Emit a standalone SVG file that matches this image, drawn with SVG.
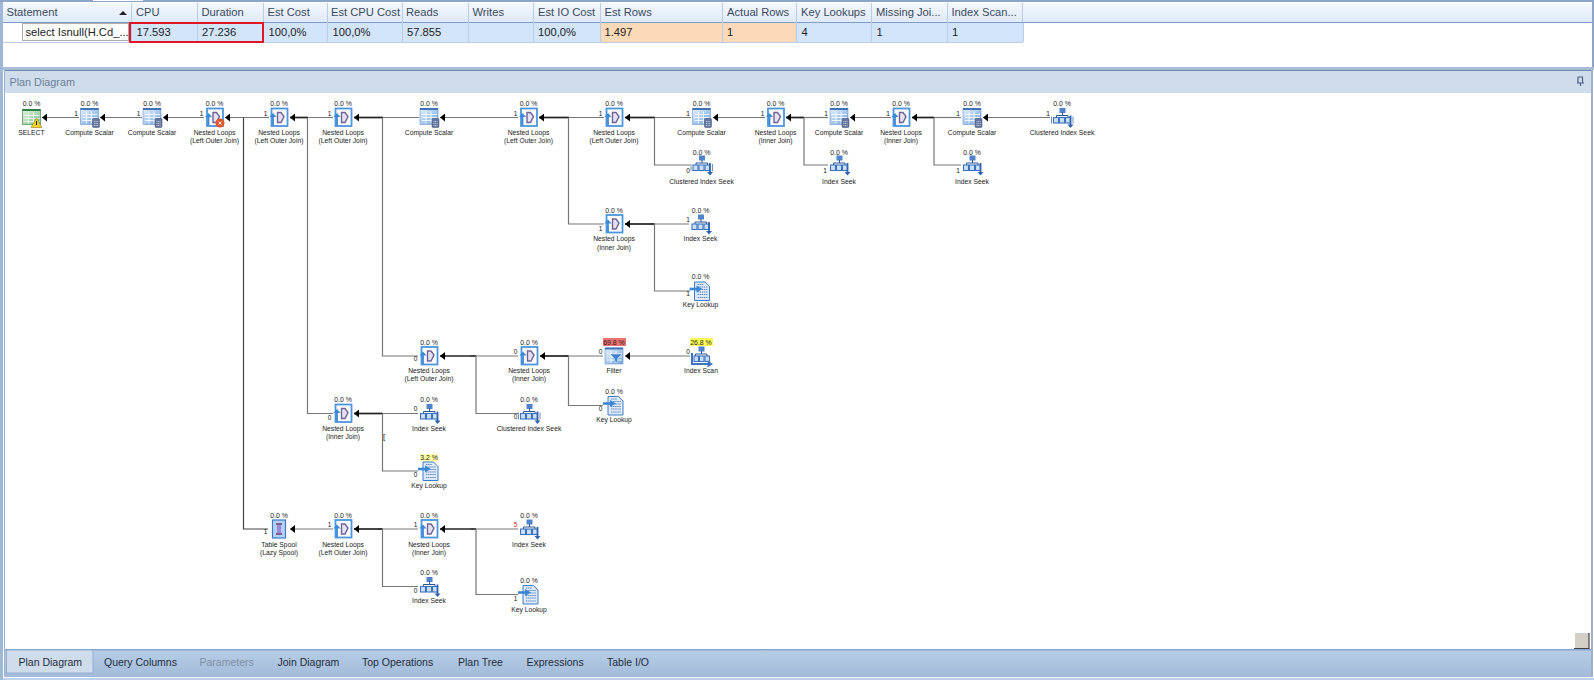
<svg xmlns="http://www.w3.org/2000/svg" width="1594" height="680" viewBox="0 0 1594 680">
<style>
text{font-family:"Liberation Sans",Arial,sans-serif}
.h{font-size:11.2px;fill:#3b4a5e}
.d{font-size:11.2px;fill:#222}
.t{font-size:10.5px;fill:#1f2d40}
.p{font-size:6.9px;fill:#222;text-anchor:middle}
.l{font-size:6.75px;fill:#222;text-anchor:middle}
.r{font-size:6.5px;fill:#111;text-anchor:middle}
.sep{stroke:#b9cde6;stroke-width:1}
.c{fill:none;stroke:#777;stroke-width:1.2}
.k{fill:none;stroke:#222;stroke-width:1.7}
</style>
<defs>
<linearGradient id="gh" x1="0" y1="0" x2="0" y2="1"><stop offset="0" stop-color="#f4f8fe"/><stop offset="1" stop-color="#dfeaf8"/></linearGradient>
<linearGradient id="gt" x1="0" y1="0" x2="0" y2="1"><stop offset="0" stop-color="#b7cde6"/><stop offset="1" stop-color="#a2bbd9"/></linearGradient>
<linearGradient id="gb" x1="0" y1="0" x2="1" y2="1"><stop offset="0" stop-color="#e8f2fc"/><stop offset="1" stop-color="#6ea4e0"/></linearGradient>
<linearGradient id="gg" x1="0" y1="0" x2="1" y2="1"><stop offset="0" stop-color="#e6f3e2"/><stop offset="1" stop-color="#7fc08a"/></linearGradient>
<marker id="a" markerUnits="userSpaceOnUse" markerWidth="5" markerHeight="8" refX="5" refY="4" orient="auto" viewBox="0 0 5 8"><path d="M0,0L5,4L0,8Z" fill="#000"/></marker>
<g id="grid"><rect x="-9" y="-9" width="18" height="16" fill="url(#gb)" stroke="#6d95c8" stroke-width="0.6"/><rect x="-9" y="-9.500" width="18" height="2" fill="#3f74b8"/><path d="M-7,-3H8M-7,0H8M-7,3H8M-3,-6V6M2,-6V6" stroke="#fff" stroke-width="0.8"/></g>
<g id="i-cs"><use href="#grid"/><rect x="3" y="1" width="7" height="9" rx="1" fill="#66779f" stroke="#414f75" stroke-width="0.5"/><path d="M4.500,4H8.500M4.500,6H8.500M4.500,8H8.500" stroke="#d5def0" stroke-width="0.8" stroke-dasharray="1 .6"/></g>
<g id="i-sel"><rect x="-9" y="-8" width="18" height="15" fill="url(#gg)" stroke="#4c8a5a" stroke-width="0.7"/><rect x="-9" y="-8.500" width="18" height="2" fill="#2f7f42"/><path d="M-7,-2H8M-7,1H8M-7,4H8M-3,-5V6M2,-5V6" stroke="#fff" stroke-width="0.8"/><path d="M5,0.500L10.500,10H-0.500Z" fill="#f6d32a" stroke="#7f6500" stroke-width="0.5"/><path d="M5,3.500V7.500" stroke="#222" stroke-width="1"/></g>
<g id="i-nl"><rect x="-7.500" y="-9" width="16" height="17.500" fill="#fff" stroke="#4b96dc" stroke-width="1.800"/><path d="M-1.500,-5H2L5,-1L2,5H-1.500Z" fill="#e6e2f2" stroke="#6f6299" stroke-width="1.400"/><path d="M-6,8V-1" stroke="#3a8ad8" stroke-width="1.800"/><path d="M-9.500,-0.500L-6,-4.500L-2.500,-0.500Z" fill="#3a8ad8"/></g>
<g id="i-is"><rect x="-2.500" y="-9.500" width="6" height="5" fill="#4f83cc"/><path d="M0.500,-5V-2M-5.500,0V-2H6V0" fill="none" stroke="#2f558f" stroke-width="1"/><rect x="-8.500" y="0" width="5" height="5.500" fill="#cfe0f5" stroke="#3a74c0" stroke-width="1.100"/><rect x="-2.500" y="0" width="5" height="5.500" fill="#cfe0f5" stroke="#3a74c0" stroke-width="1.100"/><rect x="3.500" y="0" width="5" height="5.500" fill="#cfe0f5" stroke="#3a74c0" stroke-width="1.100"/><path d="M8.500,-2V8" stroke="#2f62b0" stroke-width="1.800"/><path d="M5.500,7H11.500L8.500,10.500Z" fill="#2f62b0"/></g>
<g id="i-cis"><use href="#i-is"/><path d="M-10.500,-1V6M11,-1V6" stroke="#3a5f9a" stroke-width="0.700"/></g>
<g id="i-scan"><rect x="-2.500" y="-9.500" width="6" height="5" fill="#4f83cc"/><path d="M0.500,-5V-2M-5.500,0V-2H6V0" fill="none" stroke="#2f558f" stroke-width="1"/><path d="M-9,-3V8H7" fill="none" stroke="#3f74c0" stroke-width="2"/><rect x="-7" y="0" width="4.500" height="5.500" fill="#cfe0f5" stroke="#3a74c0" stroke-width="1.100"/><rect x="-1.500" y="0" width="4.500" height="5.500" fill="#cfe0f5" stroke="#3a74c0" stroke-width="1.100"/><rect x="4" y="0" width="4.500" height="5.500" fill="#cfe0f5" stroke="#3a74c0" stroke-width="1.100"/><path d="M6.500,4.500L12,8L6.500,11.500Z" fill="#3f74c0"/></g>
<g id="i-kl"><path d="M-6,-9H4.500L9,-4.500V9.500H-6Z" fill="#dce9f8" stroke="#3f7cc8" stroke-width="1"/><path d="M-3,-6.500H3M-3,-4H7M-3,-1.500H7M-3,1H7M-3,3.500H7M-3,6.500H7" stroke="#5f86bb" stroke-width="1.100" stroke-dasharray="1.400 .7"/><path d="M-11,-2H-3" stroke="#3c86d8" stroke-width="2.600"/><path d="M-4,-5.500L2,-2L-4,1.500Z" fill="#3c86d8"/></g>
<g id="i-f"><use href="#grid"/><path d="M-4,-3H8L3.500,1.500V6L0.500,4V1.500Z" fill="#3f82d0" stroke="#fff" stroke-width="0.400"/></g>
<g id="i-sp"><rect x="-6.500" y="-9" width="13" height="18" fill="#b5d0f2" stroke="#3f7cc8" stroke-width="1.200"/><path d="M-3,-5H3M-3,5H3" stroke="#7a5f90" stroke-width="1.800"/><rect x="-2" y="-4" width="4" height="8" fill="#9a8ad8"/></g>
</defs>

<rect width="1594" height="680" fill="#fff"/>
<g id="grid-panel">
<rect x="0" y="0" width="1594" height="2" fill="#8da5c8"/>
<rect x="93" y="0" width="50" height="1" fill="#fff"/>
<rect x="0" y="2" width="3" height="678" fill="#9fb8d8"/>
<rect x="3" y="3" width="1590" height="19" fill="url(#gh)"/>
<rect x="3" y="22" width="1590" height="1" fill="#7f9cc6"/>
<rect x="1592" y="2" width="2" height="66" fill="#8da5c8"/>
<rect x="128" y="23" width="895" height="19" fill="#d3e5fb"/>
<rect x="600" y="23" width="196" height="19" fill="#fcd9b8"/>
<path class="sep" d="M3,42.500H1023M1023.500,23V42"/>
<path class="sep" d="M131.500,3V42M197.500,3V42M263.500,3V42M327.500,3V42M402.500,3V42M468.500,3V42M533.500,3V42M600.500,3V42M722.500,3V42M796.500,3V42M871.500,3V42M947.500,3V42M1022.500,3V22"/>
<text class="h" x="6.500" y="16">Statement</text>
<path d="M119,15L123,11L127,15Z" fill="#222"/>
<text class="h" x="136" y="16">CPU</text>
<text class="h" x="201.500" y="16">Duration</text>
<text class="h" x="267.500" y="16">Est Cost</text>
<text class="h" x="331" y="16">Est CPU Cost</text>
<text class="h" x="406" y="16">Reads</text>
<text class="h" x="472.500" y="16">Writes</text>
<text class="h" x="538" y="16">Est IO Cost</text>
<text class="h" x="604.500" y="16">Est Rows</text>
<text class="h" x="727" y="16">Actual Rows</text>
<text class="h" x="801" y="16">Key Lookups</text>
<text class="h" x="876" y="16">Missing Joi...</text>
<text class="h" x="951.500" y="16">Index Scan...</text>
<rect x="22.500" y="23.500" width="106" height="17" fill="#fff" stroke="#333" stroke-width="0.8" stroke-dasharray="1 1"/>
<text class="d" x="25.500" y="36">select Isnull(H.Cd_...</text>
<text class="d" x="136.500" y="36">17.593</text>
<text class="d" x="202" y="36">27.236</text>
<text class="d" x="268.500" y="36">100,0%</text>
<text class="d" x="332.500" y="36">100,0%</text>
<text class="d" x="407" y="36">57.855</text>
<text class="d" x="538" y="36">100,0%</text>
<text class="d" x="604.500" y="36">1.497</text>
<text class="d" x="727" y="36">1</text>
<text class="d" x="801.500" y="36">4</text>
<text class="d" x="876.500" y="36">1</text>
<text class="d" x="952" y="36">1</text>
<rect x="130" y="23" width="133" height="19" fill="none" stroke="#e01525" stroke-width="2"/>
</g>

<g id="plan-panel">
<rect x="3" y="67" width="1591" height="3" fill="#a9bbd5"/>
<rect x="5" y="70" width="1586" height="1" fill="#6f87ab"/>
<rect x="5" y="71" width="1586" height="22" fill="#cfdcec"/>
<rect x="1591" y="70" width="2" height="610" fill="#9fb0c8"/>
<rect x="4" y="70" width="1" height="610" fill="#9fb0c8"/>
<text x="9.500" y="85.500" font-size="10.800" fill="#6d7f99">Plan Diagram</text>
<path d="M1577.500,77H1583M1578,77V83H1582.500V77M1577,83H1584M1580.500,83V86" fill="none" stroke="#4d5f85" stroke-width="1.200"/>
<rect x="1575" y="633" width="14" height="15" fill="#d4d0c8"/>
<path d="M1589,633V648.500H1574" fill="none" stroke="#444" stroke-width="1.200"/>
</g>

<g id="connectors">
<path class="c" marker-end="url(#a)" d="M79,117.500H42"/>
<path class="c" marker-end="url(#a)" d="M142,117.500H100"/>
<path class="c" marker-end="url(#a)" d="M204,117.500H163"/>
<path class="c" marker-end="url(#a)" d="M269,117.500H225"/>
<path class="c" d="M333,117.500H300"/><path class="k" marker-end="url(#a)" d="M308,117.500H290"/>
<path class="c" d="M419,117.500H375"/><path class="k" marker-end="url(#a)" d="M383,117.500H354"/>
<path class="c" marker-end="url(#a)" d="M518,117.500H440"/>
<path class="c" d="M604,117.500H560"/><path class="k" marker-end="url(#a)" d="M569,117.500H539"/>
<path class="c" d="M691,117.500H650"/><path class="k" marker-end="url(#a)" d="M655,117.500H625"/>
<path class="c" marker-end="url(#a)" d="M765,117.500H713"/>
<path class="c" d="M828,117.500H800"/><path class="k" marker-end="url(#a)" d="M804,117.500H786"/>
<path class="c" marker-end="url(#a)" d="M891,117.500H850"/>
<path class="c" d="M961,117.500H930"/><path class="k" marker-end="url(#a)" d="M934,117.500H912"/>
<path class="c" marker-end="url(#a)" d="M1050,117.500H983"/>
<path class="c" style="stroke:#444" d="M243.500,117.500V529H268"/>
<path class="c" d="M307.500,117.500V413.500H333"/>
<path class="c" d="M382.500,117.500V356H418"/>
<path class="c" d="M568.500,117.500V224H604"/>
<path class="c" d="M654.500,117.500V165H690"/>
<path class="c" d="M804,117.500V165H828"/>
<path class="c" d="M934,117.500V165H961"/>
<path class="c" d="M689,224H650"/><path class="k" marker-end="url(#a)" d="M654.500,224H625"/>
<path class="c" d="M654.500,224V291H690"/>
<path class="c" d="M518,356H470"/><path class="k" marker-end="url(#a)" d="M476,356H440"/>
<path class="c" d="M603,356H564"/><path class="k" marker-end="url(#a)" d="M568.500,356H540"/>
<path class="c" marker-end="url(#a)" d="M690,356H625"/>
<path class="c" d="M476,356V413.500H518"/>
<path class="c" d="M568.500,356V405.500H603"/>
<path class="c" d="M418,413.500H378"/><path class="k" marker-end="url(#a)" d="M382.500,413.500H354"/>
<path class="c" d="M382.500,413.500V471H418"/>
<path class="c" marker-end="url(#a)" d="M333,529H290"/>
<path class="c" d="M418,529H378"/><path class="k" marker-end="url(#a)" d="M382.500,529H354"/>
<path class="c" d="M518,529H470"/><path class="k" marker-end="url(#a)" d="M476,529H440"/>
<path class="c" d="M382.500,529V586.500H418"/>
<path class="c" d="M476,529V594.500H518"/>
<text x="384" y="439" font-size="7.500" fill="#111" text-anchor="middle">[</text>
</g>

<g id="n1"><text class="p" x="31.500" y="106">0.0 %</text><use href="#i-sel" x="31.500" y="117.500"/><text class="l" x="31.500" y="135">SELECT</text></g>
<g id="n2"><text class="p" x="89.500" y="106">0.0 %</text><use href="#i-cs" x="89.500" y="117.500"/><text class="r" x="76" y="116">1</text><text class="l" x="89.500" y="135">Compute Scalar</text></g>
<g id="n3"><text class="p" x="152" y="106">0.0 %</text><use href="#i-cs" x="152" y="117.500"/><text class="r" x="138.500" y="116">1</text><text class="l" x="152" y="135">Compute Scalar</text></g>
<g id="n4"><text class="p" x="214.500" y="106">0.0 %</text><use href="#i-nl" x="214.500" y="117.500"/><circle cx="220" cy="123" r="4.500" fill="#e2572b"/><path d="M218.500,121.500L221.500,124.500M221.500,121.500L218.500,124.500" stroke="#fff" stroke-width="0.900"/><text class="r" x="201.500" y="116">1</text><text class="l" x="214.500" y="135">Nested Loops</text><text class="l" x="214.500" y="143">(Left Outer Join)</text></g>
<g id="n5"><text class="p" x="279" y="106">0.0 %</text><use href="#i-nl" x="279" y="117.500"/><text class="r" x="265.500" y="116">1</text><text class="l" x="279" y="135">Nested Loops</text><text class="l" x="279" y="143">(Left Outer Join)</text></g>
<g id="n6"><text class="p" x="343" y="106">0.0 %</text><use href="#i-nl" x="343" y="117.500"/><text class="r" x="329.500" y="116">1</text><text class="l" x="343" y="135">Nested Loops</text><text class="l" x="343" y="143">(Left Outer Join)</text></g>
<g id="n7"><text class="p" x="429" y="106">0.0 %</text><use href="#i-cs" x="429" y="117.500"/><text class="l" x="429" y="135">Compute Scalar</text></g>
<g id="n8"><text class="p" x="528.500" y="106">0.0 %</text><use href="#i-nl" x="528.500" y="117.500"/><text class="r" x="515.500" y="116">1</text><text class="l" x="528.500" y="135">Nested Loops</text><text class="l" x="528.500" y="143">(Left Outer Join)</text></g>
<g id="n9"><text class="p" x="614" y="106">0.0 %</text><use href="#i-nl" x="614" y="117.500"/><text class="r" x="600.500" y="116">1</text><text class="l" x="614" y="135">Nested Loops</text><text class="l" x="614" y="143">(Left Outer Join)</text></g>
<g id="n10"><text class="p" x="701.500" y="106">0.0 %</text><use href="#i-cs" x="701.500" y="117.500"/><text class="r" x="688" y="116">1</text><text class="l" x="701.500" y="135">Compute Scalar</text></g>
<g id="n11"><text class="p" x="775.500" y="106">0.0 %</text><use href="#i-nl" x="775.500" y="117.500"/><text class="r" x="762.500" y="116">1</text><text class="l" x="775.500" y="135">Nested Loops</text><text class="l" x="775.500" y="143">(Inner Join)</text></g>
<g id="n12"><text class="p" x="839" y="106">0.0 %</text><use href="#i-cs" x="839" y="117.500"/><text class="r" x="826" y="116">1</text><text class="l" x="839" y="135">Compute Scalar</text></g>
<g id="n13"><text class="p" x="901" y="106">0.0 %</text><use href="#i-nl" x="901" y="117.500"/><text class="r" x="888" y="116">1</text><text class="l" x="901" y="135">Nested Loops</text><text class="l" x="901" y="143">(Inner Join)</text></g>
<g id="n14"><text class="p" x="972" y="106">0.0 %</text><use href="#i-cs" x="972" y="117.500"/><text class="r" x="958" y="116">1</text><text class="l" x="972" y="135">Compute Scalar</text></g>
<g id="n15"><text class="p" x="1062" y="106">0.0 %</text><use href="#i-cis" x="1062" y="117.500"/><text class="r" x="1048" y="116">1</text><text class="l" x="1062" y="135">Clustered Index Seek</text></g>
<g id="n16"><text class="p" x="701.500" y="155">0.0 %</text><use href="#i-cis" x="701.500" y="165"/><text class="r" x="688" y="173">0</text><text class="l" x="701.500" y="184">Clustered Index Seek</text></g>
<g id="n17"><text class="p" x="839" y="155">0.0 %</text><use href="#i-is" x="839" y="165"/><text class="r" x="825" y="173">1</text><text class="l" x="839" y="184">Index Seek</text></g>
<g id="n18"><text class="p" x="972" y="155">0.0 %</text><use href="#i-is" x="972" y="165"/><text class="r" x="958" y="173">1</text><text class="l" x="972" y="184">Index Seek</text></g>
<g id="n19"><text class="p" x="614" y="213">0.0 %</text><use href="#i-nl" x="614" y="224"/><text class="r" x="600.500" y="231">1</text><text class="l" x="614" y="241">Nested Loops</text><text class="l" x="614" y="250">(Inner Join)</text></g>
<g id="n20"><text class="p" x="700.500" y="213">0.0 %</text><use href="#i-is" x="700.500" y="224"/><text class="r" x="688" y="222">1</text><text class="l" x="700.500" y="241">Index Seek</text></g>
<g id="n21"><text class="p" x="700.500" y="279">0.0 %</text><use href="#i-kl" x="700.500" y="291"/><text class="r" x="688" y="296">1</text><text class="l" x="700.500" y="307">Key Lookup</text></g>
<g id="n22"><text class="p" x="429" y="345">0.0 %</text><use href="#i-nl" x="429" y="356"/><text class="r" x="415.500" y="361">0</text><text class="l" x="429" y="373">Nested Loops</text><text class="l" x="429" y="381">(Left Outer Join)</text></g>
<g id="n23"><text class="p" x="529" y="345">0.0 %</text><use href="#i-nl" x="529" y="356"/><text class="r" x="515.500" y="354">0</text><text class="l" x="529" y="373">Nested Loops</text><text class="l" x="529" y="381">(Inner Join)</text></g>
<g id="n24"><rect x="603" y="338" width="23" height="8" fill="#f07070"/><text class="p" x="614" y="345">69.8 %</text><use href="#i-f" x="614" y="357"/><text class="r" x="600.500" y="354">0</text><text class="l" x="614" y="373">Filter</text></g>
<g id="n25"><rect x="690" y="338" width="23" height="8" fill="#ffff55"/><text class="p" x="701" y="345">26.8 %</text><use href="#i-scan" x="701" y="356"/><text class="r" x="688" y="354">0</text><text class="l" x="701" y="373">Index Scan</text></g>
<g id="n26"><text class="p" x="429" y="402">0.0 %</text><use href="#i-is" x="429" y="413.500"/><text class="r" x="415.500" y="411">0</text><text class="l" x="429" y="431">Index Seek</text></g>
<g id="n27"><text class="p" x="529" y="402">0.0 %</text><use href="#i-cis" x="529" y="413.500"/><text class="r" x="515.500" y="419">0</text><text class="l" x="529" y="431">Clustered Index Seek</text></g>
<g id="n28"><text class="p" x="614" y="394">0.0 %</text><use href="#i-kl" x="614" y="405.500"/><text class="r" x="600.500" y="411">0</text><text class="l" x="614" y="422">Key Lookup</text></g>
<g id="n29"><text class="p" x="343" y="402">0.0 %</text><use href="#i-nl" x="343" y="413.500"/><text class="r" x="329.500" y="420">0</text><text class="l" x="343" y="431">Nested Loops</text><text class="l" x="343" y="439">(Inner Join)</text></g>
<g id="n30"><rect x="420" y="454" width="18" height="7.500" fill="#ffffa6"/><text class="p" x="429" y="460">3.2 %</text><use href="#i-kl" x="429" y="471"/><text class="r" x="415.500" y="477">0</text><text class="l" x="429" y="488">Key Lookup</text></g>
<g id="n31"><text class="p" x="279" y="517.500">0.0 %</text><use href="#i-sp" x="279" y="529"/><text class="r" x="265.500" y="534">1</text><text class="l" x="279" y="546.500">Table Spool</text><text class="l" x="279" y="554.500">(Lazy Spool)</text></g>
<g id="n32"><text class="p" x="343" y="517.500">0.0 %</text><use href="#i-nl" x="343" y="529"/><text class="r" x="329.500" y="527">1</text><text class="l" x="343" y="546.500">Nested Loops</text><text class="l" x="343" y="554.500">(Left Outer Join)</text></g>
<g id="n33"><text class="p" x="429" y="517.500">0.0 %</text><use href="#i-nl" x="429" y="529"/><text class="r" x="415.500" y="527">1</text><text class="l" x="429" y="546.500">Nested Loops</text><text class="l" x="429" y="554.500">(Inner Join)</text></g>
<g id="n34"><text class="p" x="529" y="517.500">0.0 %</text><use href="#i-is" x="529" y="529"/><text class="r" x="515.500" y="527" style="fill:#d01818">5</text><text class="l" x="529" y="546.500">Index Seek</text></g>
<g id="n35"><text class="p" x="429" y="575">0.0 %</text><use href="#i-is" x="429" y="586.500"/><text class="r" x="415.500" y="593">0</text><text class="l" x="429" y="603">Index Seek</text></g>
<g id="n36"><text class="p" x="529" y="583">0.0 %</text><use href="#i-kl" x="529" y="594.500"/><text class="r" x="515.500" y="601">1</text><text class="l" x="529" y="611.500">Key Lookup</text></g>

<g id="tabs">
<rect x="5" y="650" width="1586" height="27" fill="url(#gt)"/>
<rect x="5" y="649" width="1586" height="1.500" fill="#8aa6cc"/>
<rect x="3" y="677" width="1591" height="1" fill="#fff"/>
<rect x="3" y="678" width="1591" height="2" fill="#bcd0e9"/>
<rect x="6.500" y="650" width="86.500" height="23" fill="#cfdcec" stroke="#8aa6cc" stroke-width="0.800"/>
<text class="t" x="18.500" y="666">Plan Diagram</text>
<text class="t" x="104" y="666">Query Columns</text>
<text class="t" x="199.500" y="666" style="fill:#7f8ea3">Parameters</text>
<text class="t" x="277.500" y="666">Join Diagram</text>
<text class="t" x="362" y="666">Top Operations</text>
<text class="t" x="458" y="666">Plan Tree</text>
<text class="t" x="526.500" y="666">Expressions</text>
<text class="t" x="607" y="666">Table I/O</text>
</g>
</svg>
